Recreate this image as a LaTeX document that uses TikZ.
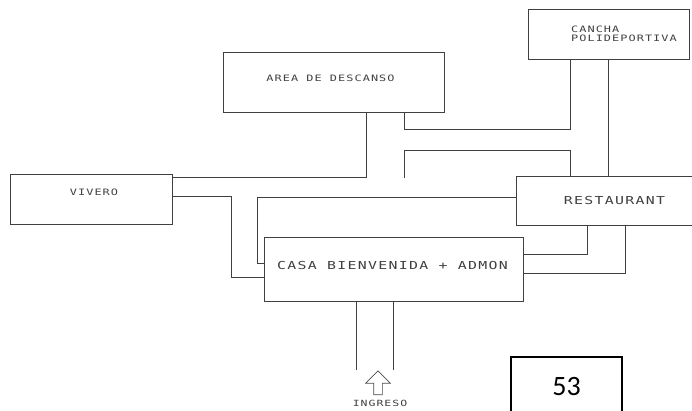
\documentclass[tikz,border=0pt]{standalone}
\usepackage{fontspec}
\usepackage{tikz}
\usetikzlibrary{calc}
\usetikzlibrary{shapes.arrows}
\newfontfamily\cadfont[LetterSpace=12,FakeStretch=1.35]{DejaVu Sans Mono}
\newfontfamily\pagefont{Carlito}

\tikzset{
  zone/.style={draw=black!75,line width=0.8pt,inner sep=0pt},
  link/.style={draw=black!75,line width=0.8pt},
  bigcad/.style={text=black!75,font=\cadfont\fontsize{11}{12}\selectfont},
  smallcad/.style={text=black!75,font=\cadfont\fontsize{8.8}{9}\selectfont},
}

\begin{document}
\begin{tikzpicture}[x=1pt,y=-1pt]
  \useasboundingbox (0,0) rectangle (692,410);
  \clip (0,0) rectangle (692,410);

  \node[zone,minimum width=221pt,minimum height=60pt,
    label={[smallcad,yshift=4pt,xshift=-3pt]center:AREA DE DESCANSO}]
    (area) at (333.5,82) {};
  \node[zone,minimum width=161pt,minimum height=50pt,
    label={[smallcad,align=left,anchor=west,xshift=40pt]west:CANCHA\\POLIDEPORTIVA}]
    (cancha) at (608.5,34) {};
  \node[zone,minimum width=162pt,minimum height=50pt,
    label={[smallcad,yshift=7pt,xshift=3pt]center:VIVERO}]
    (vivero) at (91,199) {};
  \node[zone,minimum width=204pt,minimum height=49pt,
    label={[bigcad,xshift=-3.5pt]center:RESTAURANT}]
    (restaurant) at (618,200.5) {};
  \node[zone,minimum width=259pt,minimum height=64pt,
    label={[bigcad,yshift=4pt,xshift=-1pt]center:CASA BIENVENIDA + ADMON}]
    (casa) at (393.5,269) {};

  \node[single arrow,draw=black!70,line width=0.7pt,shape border rotate=90,
    minimum height=24pt,inner sep=4pt,single arrow head extend=8pt]
    (entrada) at (378,385) {};
  \node[smallcad,font=\cadfont\fontsize{8.5}{9}\selectfont] (ingreso) at (380,403.5) {INGRESO};

  \node[draw,line width=1.6pt,minimum width=111pt,minimum height=68pt,
    label={[font=\pagefont\fontsize{28}{30}\selectfont,yshift=4pt]center:53}]
    (pagina) at (566.5,391) {};

  \coordinate (lazo) at (404,178);
  \coordinate (ingizq) at (356,370);
  \coordinate (ingder) at (393.5,370);

  \draw[link] ([yshift=-4pt]vivero.north east) -| ([xshift=144pt]area.south west);
  \draw[link] ([xshift=-40pt]area.south east) -- ++(0,17) -| ([xshift=43pt]cancha.south west);
  \draw[link] (cancha.south) -- (cancha.south |- restaurant.north);
  \draw[link] (lazo) -- ++(0,-28) -| ([xshift=55pt]restaurant.north west);
  \draw[link] ([yshift=-27pt]casa.north west) -- ++(-6,0) |- ([yshift=-22pt]restaurant.north west);
  \draw[link] ([yshift=-23pt]vivero.north east) -- ++(59,0) |- ([yshift=-41pt]casa.north west);
  \draw[link] ([xshift=72pt]restaurant.south west) |- ([yshift=-18pt]casa.north east);
  \draw[link] ([xshift=110pt]restaurant.south west) |- ([yshift=-37pt]casa.north east);
  \draw[link] ([xshift=-37.5pt]casa.south) -- (ingizq);
  \draw[link] (casa.south) -- (ingder);
\end{tikzpicture}
\end{document}
